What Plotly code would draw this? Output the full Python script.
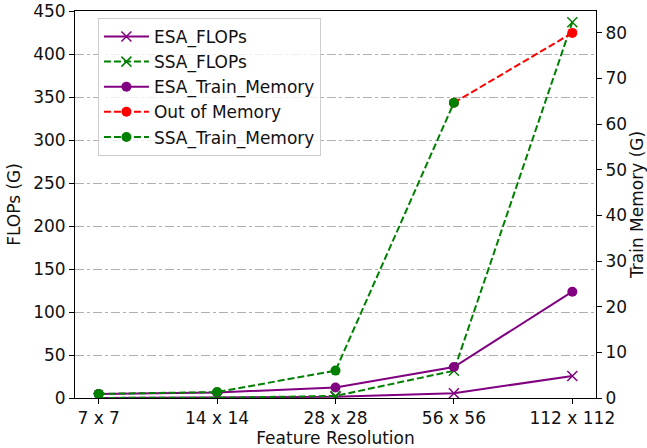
import plotly.graph_objects as go

categories = ["7 x 7", "14 x 14", "28 x 28", "56 x 56", "112 x 112"]

esa_flops = [0.1, 0.4, 1.4, 5.5, 25.6]
ssa_flops = [0.1, 0.3, 2.4, 31.7, 437.0]
esa_train_memory = [0.9, 1.2, 2.3, 6.8, 23.3]
oom_categories = ["56 x 56", "112 x 112"]
oom_memory = [64.7, 80.0]
ssa_train_memory = [0.9, 1.3, 6.0, 64.7]

left_ticks = [0, 50, 100, 150, 200, 250, 300, 350, 400, 450]
right_ticks = [0, 10, 20, 30, 40, 50, 60, 70, 80]

PURPLE = "#800080"
GREEN = "#008000"
RED = "#ff0000"
DASH = "7px,3px"
FONT = "DejaVu Sans"
FS = 17
TXT = "#111111"

fig = go.Figure()

fig.add_trace(go.Scatter(
    x=categories, y=esa_flops, name="ESA_FLOPs", mode="lines+markers",
    line=dict(color=PURPLE, width=2),
    marker=dict(symbol="x-thin", size=10, line=dict(color=PURPLE, width=1.5)),
    legendgroup="a", yaxis="y"))
fig.add_trace(go.Scatter(
    x=categories, y=ssa_flops, name="SSA_FLOPs", mode="lines+markers",
    line=dict(color=GREEN, width=2, dash=DASH),
    marker=dict(symbol="x-thin", size=10, line=dict(color=GREEN, width=1.5)),
    legendgroup="b", yaxis="y"))
fig.add_trace(go.Scatter(
    x=categories, y=esa_train_memory, name="ESA_Train_Memory", mode="lines+markers",
    line=dict(color=PURPLE, width=2),
    marker=dict(symbol="circle", size=10, color=PURPLE),
    legendgroup="c", yaxis="y2"))
fig.add_trace(go.Scatter(
    x=oom_categories, y=oom_memory, name="Out of Memory", mode="lines+markers",
    line=dict(color=RED, width=2, dash=DASH),
    marker=dict(symbol="circle", size=10, color=RED),
    legendgroup="d", yaxis="y2"))
fig.add_trace(go.Scatter(
    x=categories[:len(ssa_train_memory)], y=ssa_train_memory, name="SSA_Train_Memory",
    mode="lines+markers",
    line=dict(color=GREEN, width=2, dash=DASH),
    marker=dict(symbol="circle", size=10, color=GREEN),
    legendgroup="e", yaxis="y2"))

axis_common = dict(
    showline=True, linecolor="black", linewidth=1,
    ticks="outside", ticklen=5, tickwidth=1, tickcolor="black",
    tickfont=dict(family=FONT, size=FS, color=TXT),
    zeroline=False,
)

fig.update_layout(
    width=647, height=448,
    margin=dict(l=75, r=51, t=11, b=50),
    paper_bgcolor="white", plot_bgcolor="white",
    font=dict(family=FONT, size=FS, color=TXT),
    showlegend=True,
    legend=dict(
        x=0.044, y=0.982, xanchor="left", yanchor="top",
        bgcolor="rgba(255,255,255,0.8)", bordercolor="#cccccc", borderwidth=1,
        font=dict(family=FONT, size=FS, color=TXT),
        traceorder="grouped", tracegroupgap=0, itemwidth=45,
    ),
    xaxis=dict(
        type="category", categoryorder="array", categoryarray=categories,
        range=[-0.2, 4.2], mirror=True, showgrid=False,
        title=dict(text="Feature Resolution", font=dict(family=FONT, size=FS, color=TXT), standoff=2),
        automargin=False,
        **axis_common,
    ),
    yaxis=dict(
        range=[0, 450], tickvals=left_ticks,
        showgrid=True, gridcolor="#b0b0b0", griddash="dashdot", gridwidth=1,
        title=dict(text="FLOPs (G)", font=dict(family=FONT, size=FS, color=TXT), standoff=8),
        automargin=False,
        **axis_common,
    ),
    yaxis2=dict(
        overlaying="y", side="right", anchor="x",
        range=[0, 84.8], tickvals=right_ticks, showgrid=False,
        title=dict(text="Train Memory (G)", font=dict(family=FONT, size=FS, color=TXT), standoff=15),
        automargin=False,
        **axis_common,
    ),
)

fig.write_html(
    "out.html",
    config={"displayModeBar": False},
    post_script="document.body.style.margin='0';document.documentElement.style.overflow='hidden';",
)
